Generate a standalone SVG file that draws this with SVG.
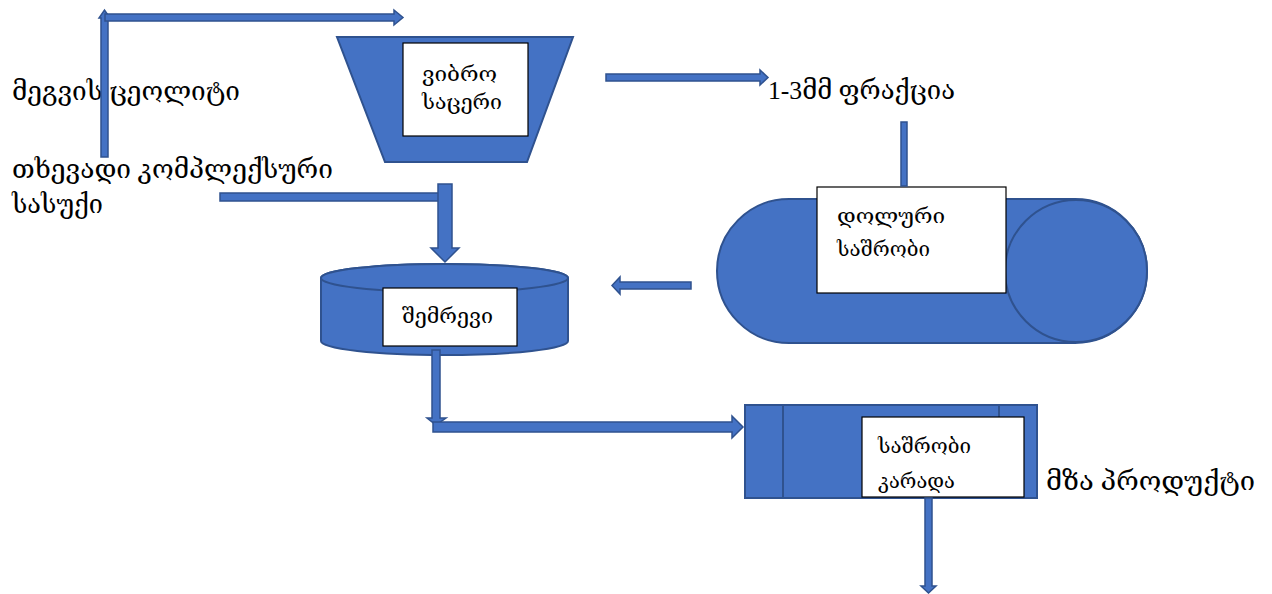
<svg xmlns="http://www.w3.org/2000/svg" width="1272" height="594" viewBox="0 0 1272 594">
<style>
.shape{fill:#4472C4;stroke:#2F528F;stroke-width:2}
.arr{fill:#4472C4;stroke:#2F528F;stroke-width:1.5;stroke-linejoin:miter}
.box{fill:#FFFFFF;stroke:#000000;stroke-width:1.2}
.lbl{font-family:"Liberation Serif","DejaVu Serif","DejaVu Sans",serif;fill:#000000}
.big{font-size:26px}
.sm{font-size:20px}
</style>
<rect width="1272" height="594" fill="#FFFFFF"/>

<g id="label-zeolite">
<text class="lbl big" x="12" y="100" textLength="228" lengthAdjust="spacingAndGlyphs">მეგვის ცეოლიტი</text>
</g>
<g id="label-fertilizer">
<text class="lbl big" x="12" y="178" textLength="321" lengthAdjust="spacingAndGlyphs">თხევადი კომპლექსური</text>
<text class="lbl big" x="12" y="213" textLength="91" lengthAdjust="spacingAndGlyphs">სასუქი</text>
</g>

<g id="vibro-sieve">
<polygon class="shape" points="337,37 573,37 527,162 385,162"/>
<rect class="box" x="403" y="43" width="125" height="93"/>
<text class="lbl sm" x="422" y="81" textLength="75" lengthAdjust="spacingAndGlyphs">ვიბრო</text>
<text class="lbl sm" x="422" y="109" textLength="80" lengthAdjust="spacingAndGlyphs">საცერი</text>
</g>

<g id="label-fraction">
<text class="lbl big" x="768" y="99" textLength="187" lengthAdjust="spacingAndGlyphs">1-3მმ ფრაქცია</text>
</g>

<g id="drum-dryer">
<path class="shape" d="M789,199 H1075 A72,72 0 0 1 1075,343 H789 A72,72 0 0 1 789,199 Z"/>
<circle class="shape" cx="1076" cy="271" r="71"/>
<rect class="box" x="817" y="187" width="189" height="106"/>
<text class="lbl sm" x="837" y="223" textLength="108" lengthAdjust="spacingAndGlyphs">დოლური</text>
<text class="lbl sm" x="837" y="256" textLength="93" lengthAdjust="spacingAndGlyphs">საშრობი</text>
</g>

<g id="mixer">
<path class="shape" d="M321,278 A123.5,14 0 0 1 568,278 V341 A123.5,14 0 0 1 321,341 Z"/>
<ellipse class="shape" cx="444.5" cy="278" rx="123.5" ry="14"/>
<rect class="box" x="383" y="288" width="134" height="58"/>
<text class="lbl sm" x="402" y="323" textLength="91" lengthAdjust="spacingAndGlyphs">შემრევი</text>
</g>

<g id="drying-cabinet">
<rect class="shape" x="745" y="405" width="292" height="93"/>
<line x1="783" y1="405" x2="783" y2="498" stroke="#2F528F" stroke-width="2"/>
<line x1="999" y1="405" x2="999" y2="498" stroke="#2F528F" stroke-width="2"/>
<rect class="box" x="862" y="417" width="162" height="80"/>
<text class="lbl sm" x="878" y="453" textLength="93" lengthAdjust="spacingAndGlyphs">საშრობი</text>
<text class="lbl sm" x="878" y="488" textLength="77" lengthAdjust="spacingAndGlyphs">კარადა</text>
</g>

<g id="label-product">
<text class="lbl big" x="1046" y="490" textLength="209" lengthAdjust="spacingAndGlyphs">მზა პროდუქტი</text>
</g>

<g id="connectors">
<polygon class="arr" points="101,157 101,18 99,18 104.5,10 110,18 108,18 108,157"/>
<polygon class="arr" points="105,14 394,14 394,10 403,17.5 394,25 394,21 105,21"/>
<polygon class="arr" points="220,193 440,193 440,188 447,197 440,206 440,201 220,201"/>
<polygon class="arr" points="438,184 452,184 452,248 459,248 445,262 431,248 438,248"/>
<polygon class="arr" points="606,74 760,74 760,70 768,77.5 760,85 760,81 606,81"/>
<rect class="arr" x="901" y="122" width="6" height="64"/>
<polygon class="arr" points="691,282 620,282 620,277 612,285.5 620,294 620,289 691,289"/>
<polygon class="arr" points="432,350 440,350 440,418 446,418 436,425 427,418 432,418"/>
<polygon class="arr" points="433,422 732,422 732,416 743,427 732,438 732,432 433,432"/>
<polygon class="arr" points="925,498 932,498 932,586 936,586 928.5,593 921,586 925,586"/>
</g>
</svg>
